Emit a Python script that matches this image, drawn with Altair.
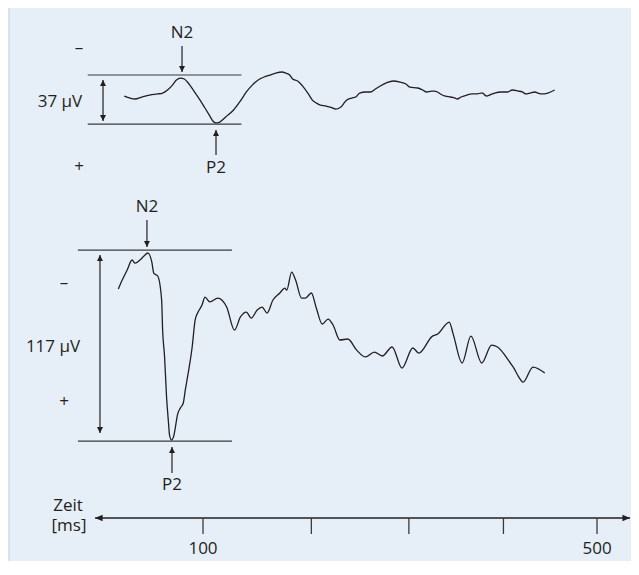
import altair as alt
import pandas as pd

# ---------------- data (time in ms, voltage in µV, "+" downward) ----------------
TOP_TRACE = [
    (20, -2.6), (26, -1.1), (31, -0.4), (38, -1.9), (46, -3.4), (54, -4.2), (59, -4.9), (64, -7.2),
    (69, -10.9), (73, -14.7), (77, -16.2), (81, -15.5), (85, -12.5), (90, -7.2), (97, 0.4), (102, 6.4),
    (107, 12.5), (110, 16.2), (113, 17.7), (117, 17.0), (123, 13.2), (131, 7.9), (138, 1.1), (144, -5.7),
    (150, -10.9), (156, -14.7), (162, -17.0), (168, -18.5), (174, -20.0), (180, -20.8), (184, -20.0),
    (188, -18.5), (191, -15.5), (196, -14.0), (202, -9.4), (207, -4.2), (211, 0.4), (215, 2.6),
    (219, 4.2), (225, 4.9), (229, 5.7), (235, 7.2), (240, 5.7), (244, 1.9), (246, 0.4), (251, -1.1),
    (255, -1.9), (259, -4.9), (265, -5.7), (270, -5.7), (275, -7.9), (280, -10.2), (286, -12.5),
    (293, -14.0), (300, -13.2), (306, -11.7), (310, -9.4), (318, -8.7), (323, -7.2), (327, -5.7),
    (332, -6.4), (335, -6.4), (338, -5.7), (341, -4.2), (346, -2.6), (351, -1.9), (356, -1.1),
    (358, -0.4), (362, -1.9), (368, -3.4), (373, -4.2), (378, -4.2), (382, -4.9), (384, -4.9),
    (386, -3.4), (388, -2.6), (391, -3.4), (396, -4.9), (403, -5.7), (409, -5.7), (414, -7.2),
    (420, -6.4), (424, -5.7), (428, -4.2), (432, -4.9), (437, -5.7), (440, -4.9), (444, -4.2),
    (450, -4.9), (457, -7.2),
]

BOTTOM_TRACE = [
    (14, -34.6), (18, -40.1), (23, -46.3), (28, -52.4), (31, -50.5), (36, -52.4), (40, -54.8),
    (44, -56.7), (48, -51.2), (50, -44.4), (54, -42.6), (58, -27.9), (59, -9.5), (61, 7.0), (63, 31.6),
    (65, 47.5), (66, 54.8), (68, 57.9), (70, 56.1), (72, 49.9), (74, 42.6), (77, 38.3), (80, 35.2),
    (82, 27.3), (85, 16.8), (89, 0.9), (92, -15.6), (95, -20.5), (99, -24.8), (102, -29.7),
    (107, -26.7), (115, -29.1), (124, -23.6), (132, -9.5), (138, -17.5), (144, -20.5), (149, -16.8),
    (155, -21.8), (160, -23.6), (165, -19.9), (171, -27.9), (178, -32.2), (183, -35.2), (185, -34.0),
    (190, -45.0), (194, -40.1), (200, -29.1), (204, -29.1), (210, -32.2), (215, -23.0), (221, -13.2),
    (227, -16.2), (232, -12.6), (239, -3.4), (247, -4.0), (256, 2.8), (265, 7.0), (274, 4.0),
    (282, 6.4), (292, 0.9), (302, 13.8), (313, 1.5), (319, 4.6), (333, -5.8), (338, -7.0),
    (350, -14.4), (354, -7.0), (363, 10.7), (372, -5.8), (383, 10.7), (393, -0.3), (399, 0.9),
    (412, 10.7), (415, 13.2), (420, 18.7), (425, 22.4), (435, 13.2), (447, 16.8),
]

# annotations of the upper panel
TOP_REF_UV = [-18.5, 18.5]
TOP_REF_MS = (-17, 139)
TOP_AMP = (-1.5, -14.7, 16.2)          # ms, upper tip, lower tip
TOP_N2 = (78.7, -40.4, -20.8)          # ms, tail, tip
TOP_P2 = (113.2, 41.9, 23.0)
TOP_TEXT = [("N2", 78.7, -50.2), ("P2", 113.2, 51.7), ("37 µV", -45.2, 1.9),
            ("–", -25.9, -38.9), ("+", -25.9, 51.0)]
TOP_DOMAIN = [-69.1, 348.4]

# annotations of the lower panel
BOT_REF_UV = [-58.5, 58.5]
BOT_REF_MS = (-27, 129.4)
BOT_AMP = (-4.6, -55.4, 53.6)
BOT_N2 = (43.1, -76.9, -60.4)
BOT_P2 = (68.5, 78.1, 62.2)
BOT_TEXT = [("N2", 43.1, -84.9), ("P2", 68.5, 85.5), ("117 µV", -52.3, 0.9),
            ("–", -41.1, -38.3), ("+", -41.1, 34.6)]
BOT_DOMAIN = [-206.8, 132.0]

# time axis
AXIS_MS = (-9.6, 533.5)
TICK_MS = [100, 210, 309, 405, 500]
TICK_LABELS = [(100, "100"), (500, "500")]
AXIS_TITLE = [("Zeit", -37.0, 498), ("[ms]", -36.0, 518)]

# ---------------- styling ----------------
W, H = 623, 553
BG = "#e6eef8"
EDGE = "#d2e3f2"
INK = "#231f20"
FONT = "Open Sans"
FS = 17
DOWN = "M0,0L-1.5,-3L1.5,-3Z"
UP = "M0,0L-1.5,3L1.5,3Z"
LEFT = "M0,0L3.8,-1.6L3.8,1.6Z"
RIGHT = "M0,0L-3.8,-1.6L-3.8,1.6Z"

XS = alt.Scale(domain=[-97.97, 534.5], nice=False, zero=False)


def X(f):
    return alt.X(f, type="quantitative", scale=XS, axis=None)


def panel(trace, ref_uv, ref_ms, amp, n2, p2, texts, domain):
    ys = alt.Scale(domain=domain, reverse=True, nice=False, zero=False)

    def Y(f):
        return alt.Y(f, type="quantitative", scale=ys, axis=None)

    out = []
    tdf = pd.DataFrame(trace, columns=["ms", "uv"])
    out.append(alt.Chart(tdf).mark_line(interpolate="monotone", color=INK, strokeWidth=1.3)
               .encode(x=X("ms"), y=Y("uv")))
    rdf = pd.DataFrame({"uv": ref_uv, "a": [ref_ms[0]] * len(ref_uv), "b": [ref_ms[1]] * len(ref_uv)})
    out.append(alt.Chart(rdf).mark_rule(color="#3a3a3a", strokeWidth=1.2)
               .encode(x=X("a"), x2="b", y=Y("uv")))
    sdf = pd.DataFrame([amp, n2, p2], columns=["ms", "a", "b"])
    out.append(alt.Chart(sdf).mark_rule(color=INK, strokeWidth=1.2)
               .encode(x=X("ms"), y=Y("a"), y2="b"))
    up = pd.DataFrame({"ms": [amp[0], p2[0]], "uv": [amp[1], p2[2]]})
    dn = pd.DataFrame({"ms": [amp[0], n2[0]], "uv": [amp[2], n2[2]]})
    out.append(alt.Chart(up).mark_point(shape=UP, filled=True, size=16, color=INK, opacity=1)
               .encode(x=X("ms"), y=Y("uv")))
    out.append(alt.Chart(dn).mark_point(shape=DOWN, filled=True, size=16, color=INK, opacity=1)
               .encode(x=X("ms"), y=Y("uv")))
    xdf = pd.DataFrame(texts, columns=["t", "ms", "uv"])
    out.append(alt.Chart(xdf).mark_text(font=FONT, fontSize=FS, color=INK, align="center", baseline="middle")
               .encode(x=X("ms"), y=Y("uv"), text="t"))
    return out


layers = []
layers.append(alt.Chart(pd.DataFrame({"k": [0]})).mark_rect(color=EDGE)
              .encode(x=alt.value(0), x2=alt.value(2), y=alt.value(0), y2=alt.value(H)))
layers += panel(TOP_TRACE, TOP_REF_UV, TOP_REF_MS, TOP_AMP, TOP_N2, TOP_P2, TOP_TEXT, TOP_DOMAIN)
layers += panel(BOTTOM_TRACE, BOT_REF_UV, BOT_REF_MS, BOT_AMP, BOT_N2, BOT_P2, BOT_TEXT, BOT_DOMAIN)

AXIS_Y = 510
adf = pd.DataFrame({"a": [AXIS_MS[0]], "b": [AXIS_MS[1]]})
layers.append(alt.Chart(adf).mark_rule(color=INK, strokeWidth=1.5)
              .encode(x=X("a"), x2="b", y=alt.value(AXIS_Y)))
layers.append(alt.Chart(pd.DataFrame({"ms": [AXIS_MS[0]]}))
              .mark_point(shape=LEFT, filled=True, size=16, color=INK, opacity=1)
              .encode(x=X("ms"), y=alt.value(AXIS_Y)))
layers.append(alt.Chart(pd.DataFrame({"ms": [AXIS_MS[1]]}))
              .mark_point(shape=RIGHT, filled=True, size=16, color=INK, opacity=1)
              .encode(x=X("ms"), y=alt.value(AXIS_Y)))
layers.append(alt.Chart(pd.DataFrame({"ms": TICK_MS})).mark_rule(color="#3a3a3a", strokeWidth=1.3)
              .encode(x=X("ms"), y=alt.value(AXIS_Y), y2=alt.value(AXIS_Y + 16)))
layers.append(alt.Chart(pd.DataFrame(TICK_LABELS, columns=["ms", "t"]))
              .mark_text(font=FONT, fontSize=FS, color=INK, align="center", baseline="middle")
              .encode(x=X("ms"), y=alt.value(AXIS_Y + 31), text="t"))
for t, ms, py in AXIS_TITLE:
    layers.append(alt.Chart(pd.DataFrame({"ms": [ms], "t": [t]}))
                  .mark_text(font=FONT, fontSize=FS, color=INK, align="center", baseline="middle")
                  .encode(x=X("ms"), y=alt.value(py), text="t"))

chart = (
    alt.layer(*layers)
    .resolve_scale(y="independent")
    .properties(width=W, height=H, background=BG, padding=0, autosize="none")
    .configure_view(stroke=None)
)

chart.save("out.html", embed_options={"renderer": "svg", "actions": False})
